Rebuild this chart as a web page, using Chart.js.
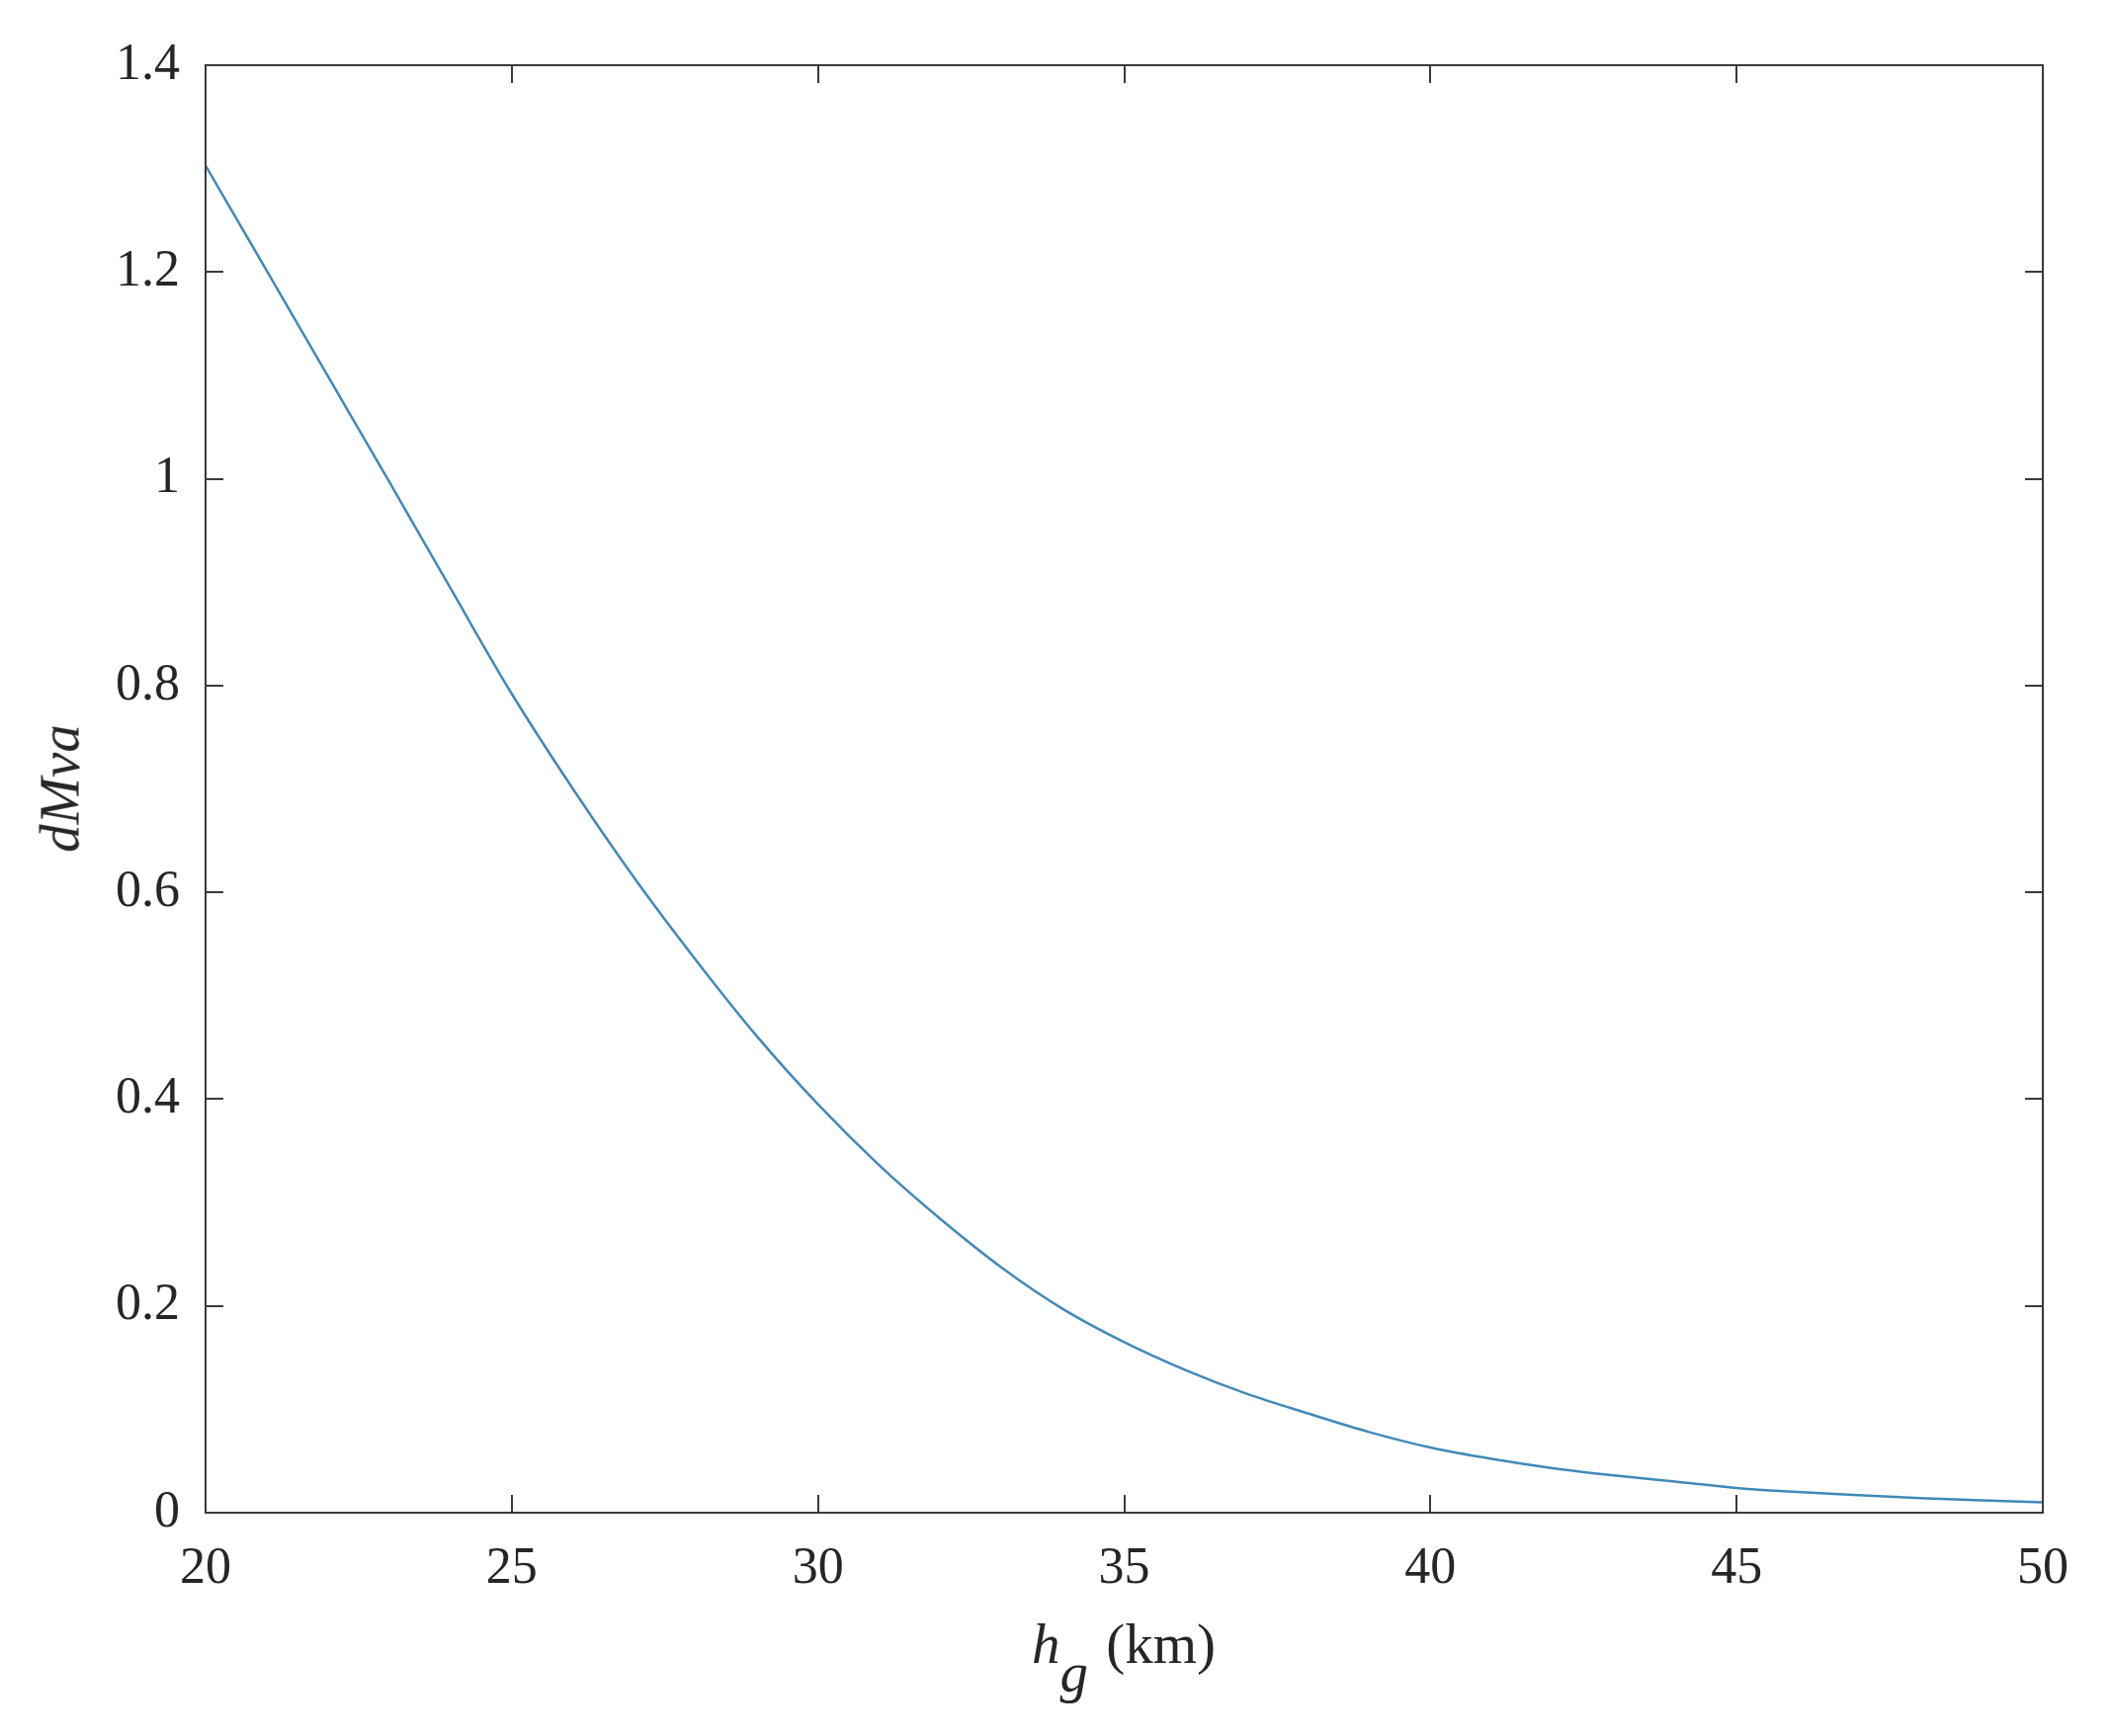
<!DOCTYPE html>
<html>
<head>
<meta charset="utf-8">
<script src="https://cdn.jsdelivr.net/npm/chart.js@4"></script>
<style>
  body { margin: 0; background: #fff; }
  #wrap { position: relative; width: 2137px; height: 1757px; }
  .axis-title {
    position: absolute;
    font-family: 'Liberation Serif', 'Times New Roman', serif;
    font-size: 57px;
    line-height: 1;
    color: #262626;
    white-space: nowrap;
  }
  #xtitle { left: 1137px; top: 1635px; transform: translateX(-50%); }
  #xtitle sub { font-size: 57px; vertical-align: -0.5em; line-height: 0; margin-right: 4px; }
  #ytitle { left: 60px; top: 798px; transform: translate(-50%, -50%) rotate(-90deg); font-style: italic; }
</style>
</head>
<body>
<div id="wrap">
  <canvas id="chart" width="2137" height="1757"></canvas>
  <div class="axis-title" id="xtitle"><i>h</i><sub><i>g</i></sub> (km)</div>
  <div class="axis-title" id="ytitle">dMva</div>
</div>
<script>
const hg = [20, 21, 22, 23, 24, 25, 26, 27, 28, 29, 30, 31, 32, 33, 34, 35,
  36, 37, 38, 39, 40, 41, 42, 43, 44, 45, 46, 47, 48, 49, 50]
const dMva = [1.303, 1.201, 1.099, 0.997, 0.894, 0.792, 0.700, 0.614, 0.535, 0.461,
  0.395, 0.336, 0.284, 0.237, 0.197, 0.165, 0.138, 0.115, 0.096, 0.078,
  0.063, 0.052, 0.043, 0.036, 0.030, 0.024, 0.020, 0.017, 0.014, 0.012, 0.010]

const xTicks = [20, 25, 30, 35, 40, 45, 50]
const yTicks = [0, 0.2, 0.4, 0.6, 0.8, 1, 1.2, 1.4]

const axisColor = '#3a3a3a'
const tickFont = { family: "'Liberation Serif', 'Times New Roman', serif", size: 52 }

// box around the plot with inward ticks on all four sides, like matlab
const boxPlugin = {
  id: 'box',
  afterDatasetsDraw(chart) {
    const { ctx, chartArea: a, scales } = chart
    const len = 18
    ctx.save()
    ctx.strokeStyle = axisColor
    ctx.lineWidth = 2
    ctx.beginPath()
    xTicks.forEach((v) => {
      const px = Math.round(scales.x.getPixelForValue(v))
      ctx.moveTo(px, a.bottom); ctx.lineTo(px, a.bottom - len)
      ctx.moveTo(px, a.top); ctx.lineTo(px, a.top + len)
    })
    yTicks.forEach((v) => {
      const py = Math.round(scales.y.getPixelForValue(v))
      ctx.moveTo(a.left, py); ctx.lineTo(a.left + len, py)
      ctx.moveTo(a.right, py); ctx.lineTo(a.right - len, py)
    })
    ctx.stroke()
    ctx.strokeRect(a.left, a.top, a.right - a.left, a.bottom - a.top)
    ctx.restore()
  },
}

new Chart(document.getElementById('chart').getContext('2d'), {
  type: 'line',
  data: {
    datasets: [{
      data: hg.map((x, i) => ({ x, y: dMva[i] })),
      borderColor: '#4189b8',
      borderWidth: 2.5,
      pointRadius: 0,
      cubicInterpolationMode: 'monotone',
      fill: false,
    }],
  },
  options: {
    responsive: false,
    animation: false,
    layout: { padding: { top: 66, right: 70, left: 0, bottom: 0 } },
    plugins: { legend: { display: false }, tooltip: { enabled: false } },
    scales: {
      x: {
        type: 'linear',
        min: 20,
        max: 50,
        afterBuildTicks: (scale) => { scale.ticks = xTicks.map((value) => ({ value })) },
        afterFit: (scale) => { scale.height = 226 },
        grid: { display: false, drawTicks: false },
        border: { display: false },
        ticks: {
          color: '#262626',
          font: tickFont,
          padding: 26,
          maxRotation: 0,
          callback: (v) => String(v),
        },
      },
      y: {
        min: 0,
        max: 1.4,
        afterBuildTicks: (scale) => { scale.ticks = yTicks.map((value) => ({ value })) },
        afterFit: (scale) => { scale.width = 208 },
        grid: { display: false, drawTicks: false },
        border: { display: false },
        ticks: {
          color: '#262626',
          font: tickFont,
          padding: 26,
          callback: (v) => String(+v.toFixed(1)),
        },
      },
    },
  },
  plugins: [boxPlugin],
})
</script>
</body>
</html>
